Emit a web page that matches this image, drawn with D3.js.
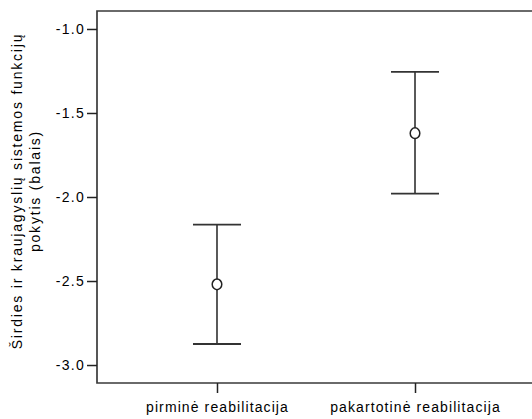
<!DOCTYPE html>
<html lang="en">
<head>
<meta charset="UTF-8">
<title>error bars</title>
<script src="https://d3js.org/d3.v7.min.js"></script>
<style>
  body { margin: 0; background: #fff; }
  svg text { font-family: "Liberation Sans", Arial, sans-serif; fill: #000; }
</style>
</head>
<body>
<svg id="chart" width="532" height="419"></svg>
<script>
// groups and their mean / 95% CI values
const categories = ["pirminė reabilitacija", "pakartotinė reabilitacija"];
const means = [-2.52, -1.62];
const lower = [-2.875, -1.98];
const upper = [-2.165, -1.255];
const yTicks = [-3.0, -2.5, -2.0, -1.5, -1.0];
const yTitle = ["Širdies ir kraujagyslių sistemos funkcijų", "pokytis (balais)"];

const svg = d3.select("#chart");
const plotLeft = 97, plotTop = 11, plotBottom = 383, plotRight = 535;

const x = d3.scalePoint().domain(categories).range([plotLeft, plotRight]).padding(0.606);
const y = d3.scaleLinear().domain([-3.107, -0.893]).range([plotBottom, plotTop]);

// frame (no right side visible)
svg.append("path")
  .attr("d", `M${plotRight},${plotTop}H${plotLeft}V${plotBottom}H${plotRight}`)
  .attr("fill", "none")
  .attr("stroke", "#3a3a3a")
  .attr("stroke-width", 1.7);

// y axis
const yAxis = svg.append("g")
  .attr("transform", `translate(${plotLeft},0)`)
  .call(d3.axisLeft(y).tickValues(yTicks).tickSize(10).tickPadding(2));
yAxis.select(".domain").remove();
yAxis.selectAll("line").attr("stroke", "#222").attr("stroke-width", 1.5);
yAxis.selectAll("text").style("font-size", "14px").style("letter-spacing", "1.3px")
  .text(d => d.toFixed(1));

// x axis
const xAxis = svg.append("g")
  .attr("transform", `translate(0,${plotBottom})`)
  .call(d3.axisBottom(x).tickSize(10).tickPadding(9));
xAxis.select(".domain").remove();
xAxis.selectAll("line").attr("stroke", "#222").attr("stroke-width", 1.5);
xAxis.selectAll("text").style("font-size", "14px").style("letter-spacing", "1.1px");

// y title
const title = svg.append("text")
  .attr("transform", "translate(22,191) rotate(-90)")
  .attr("text-anchor", "middle")
  .style("font-size", "14px")
  .style("letter-spacing", "1.8px");
title.selectAll("tspan").data(yTitle).join("tspan")
  .attr("x", 0)
  .attr("dy", (d, i) => i === 0 ? 0 : 18)
  .text(d => d);

// error bars
const capW = 24;
const bars = svg.append("g").selectAll("g").data(categories).join("g");
bars.append("line")
  .attr("x1", d => x(d)).attr("x2", d => x(d))
  .attr("y1", (d, i) => y(upper[i])).attr("y2", (d, i) => y(lower[i]))
  .attr("stroke", "#000").attr("stroke-width", 1.3);
bars.append("line")
  .attr("x1", d => x(d) - capW).attr("x2", d => x(d) + capW)
  .attr("y1", (d, i) => y(upper[i])).attr("y2", (d, i) => y(upper[i]))
  .attr("stroke", "#333").attr("stroke-width", 1.8);
bars.append("line")
  .attr("x1", d => x(d) - capW).attr("x2", d => x(d) + capW)
  .attr("y1", (d, i) => y(lower[i])).attr("y2", (d, i) => y(lower[i]))
  .attr("stroke", "#333").attr("stroke-width", 1.8);
bars.append("ellipse")
  .attr("cx", d => x(d)).attr("cy", (d, i) => y(means[i]))
  .attr("rx", 4.8).attr("ry", 5.3)
  .attr("fill", "#fff").attr("stroke", "#222").attr("stroke-width", 1.5);
</script>
</body>
</html>
